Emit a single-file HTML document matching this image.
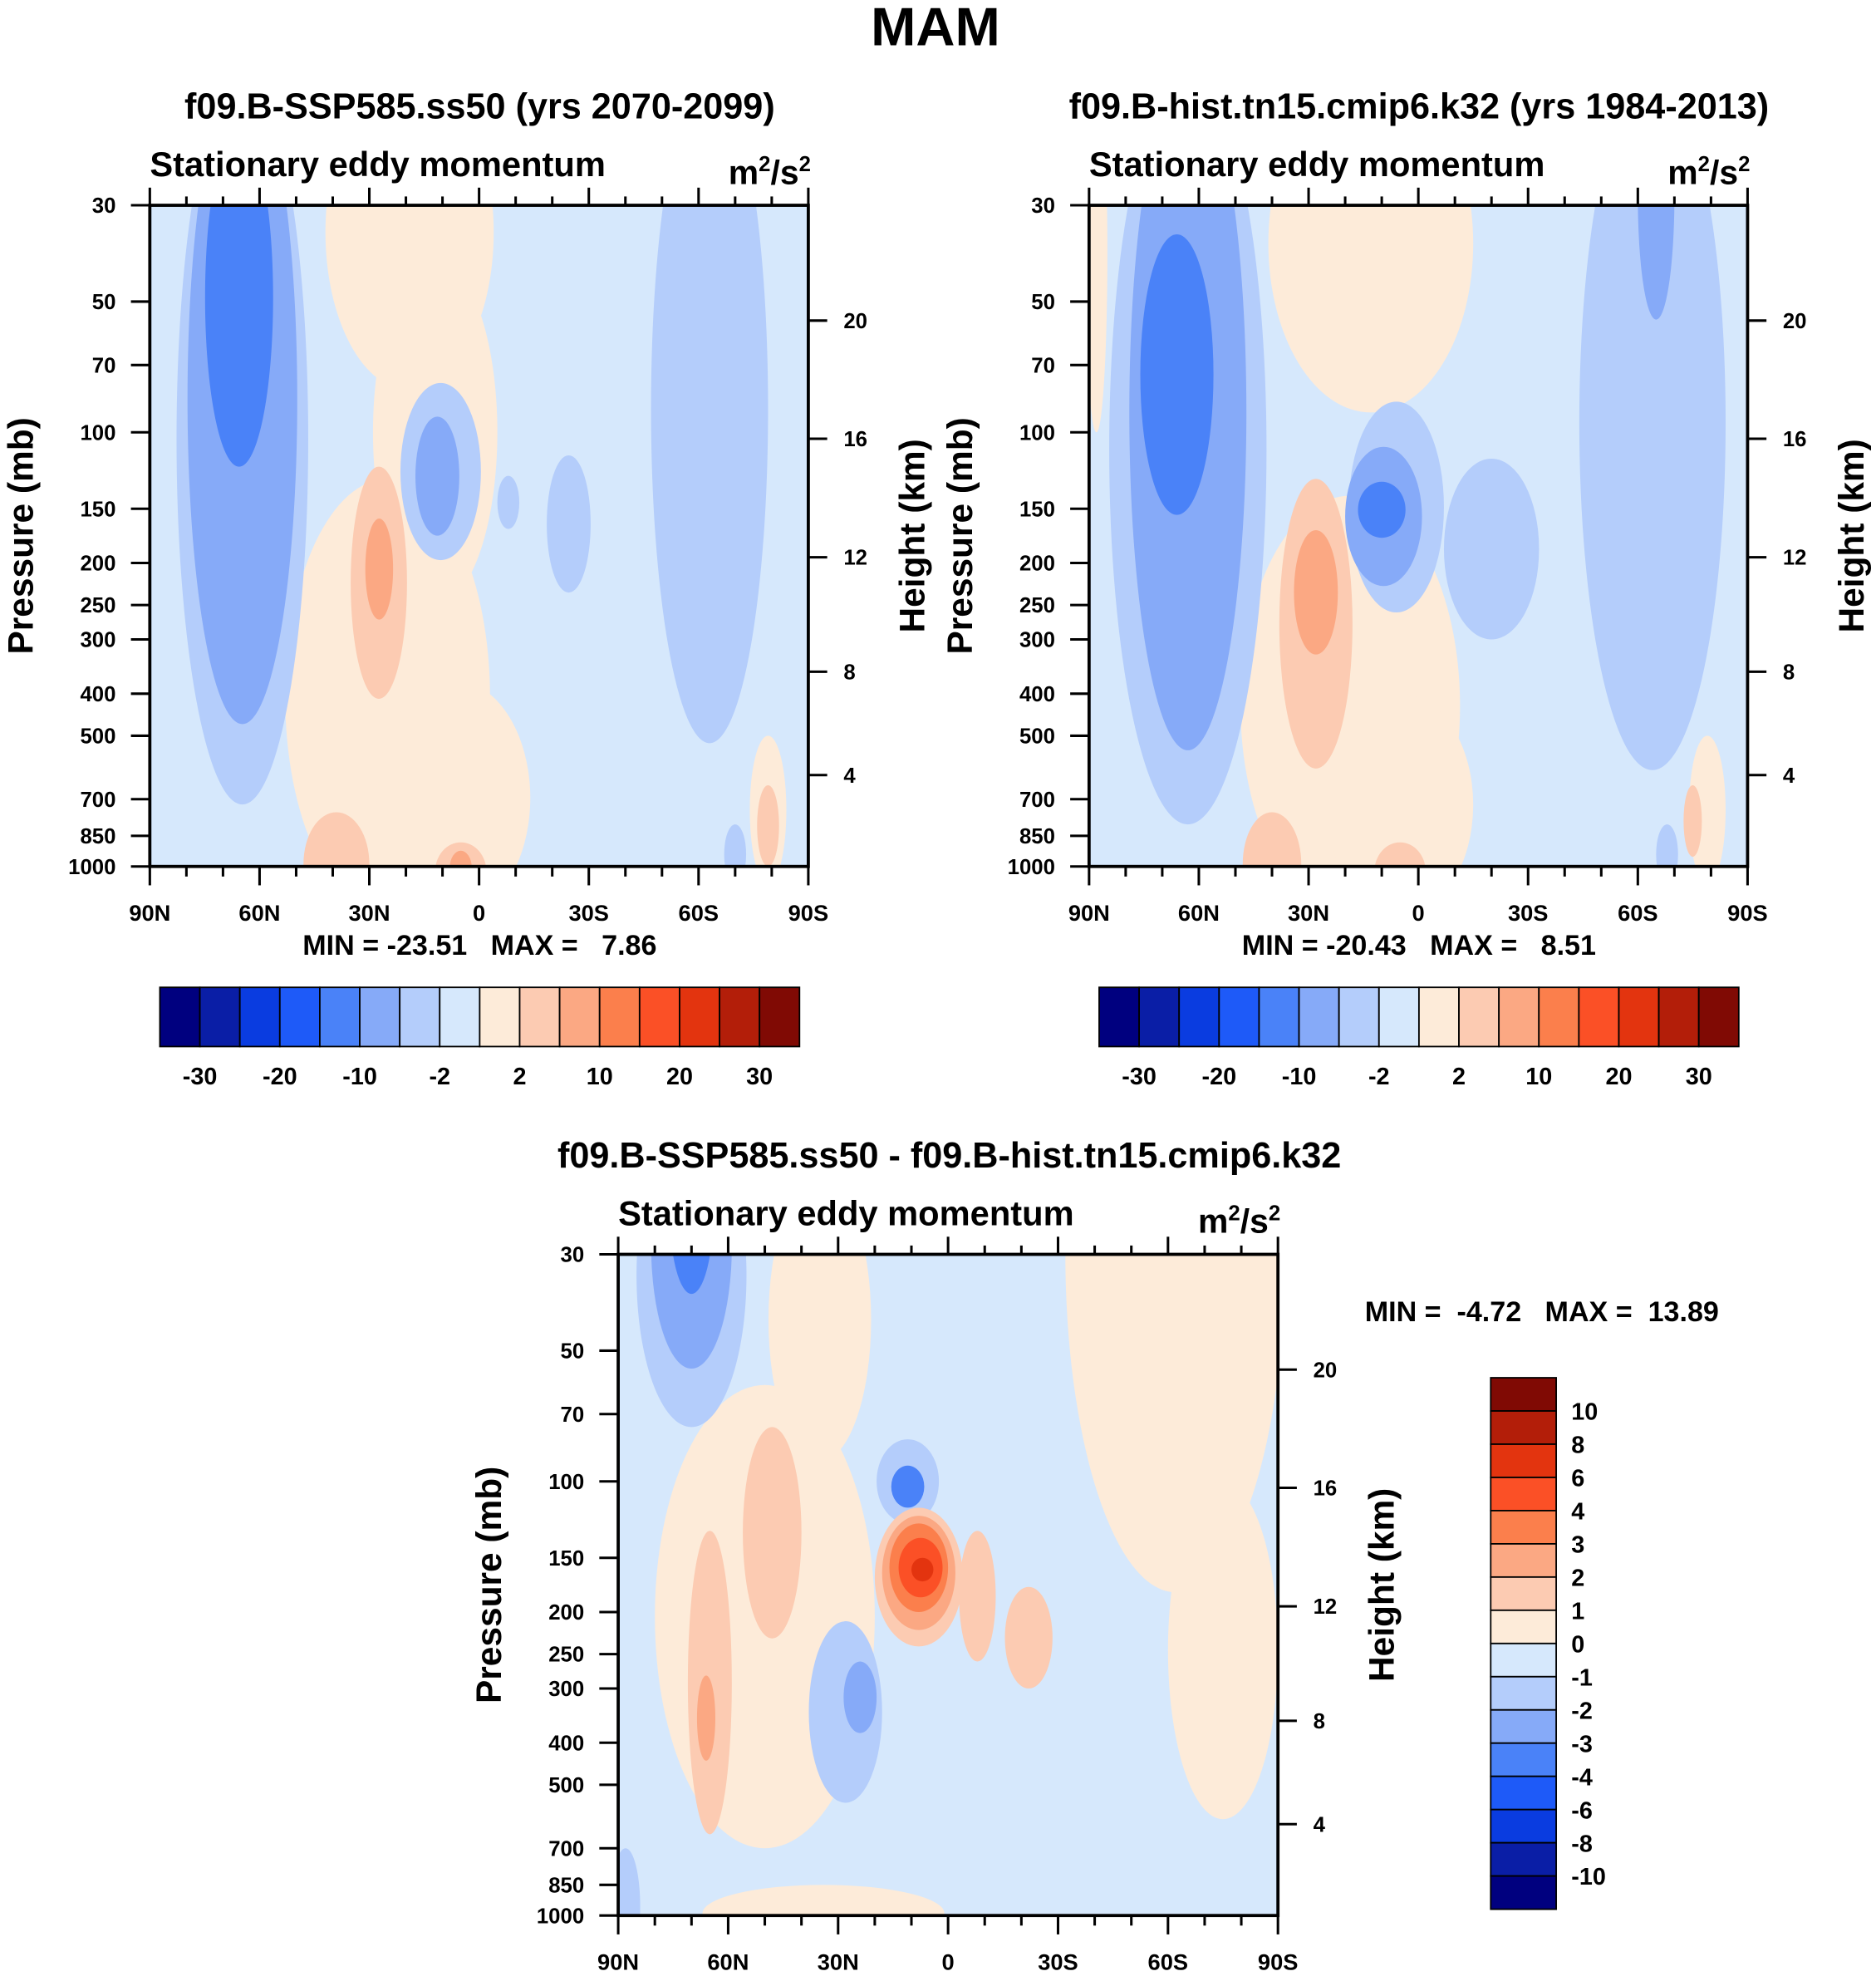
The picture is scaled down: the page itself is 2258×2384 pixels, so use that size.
<!DOCTYPE html>
<html><head><meta charset="utf-8"><style>
html,body{margin:0;padding:0;background:#fff;}
svg{display:block;font-family:"Liberation Sans",sans-serif;font-weight:bold;}
.pre{white-space:pre;}
</style></head><body>
<svg id="fig" xmlns="http://www.w3.org/2000/svg" width="2258" height="2384" viewBox="0 0 1490 1573" preserveAspectRatio="none">
<text x="743" y="36" text-anchor="middle" font-size="43">MAM</text>
</svg>
<script>
const levelColors=["#00007f","#0a1ea6","#0a3ce0","#1e5af8","#4a82f8","#86aaf8","#b4cdfb","#d6e8fc","#fdebd9","#fccbb2","#fba883","#fb7f4c","#fb5026","#e3340f","#b31e09","#800a04"];
const xTickLabels=["90N","60N","30N","0","30S","60S","90S"];
const xTickLats=[90,60,30,0,-30,-60,-90];
const pLevels=[30,50,70,100,150,200,250,300,400,500,700,850,1000];
const heightKm=[4,8,12,16,20];
const heightP=[616,356,194,103.5,55.3];
const cbLabelsH=["-30","-20","-10","-2","2","10","20","30"];
const cbLabelsV=["10","8","6","4","3","2","1","0","-1","-2","-3","-4","-6","-8","-10"];
// blobs: [latCenter, latHalfWidth, pTop, pBottom, level]
const panel1Blobs=[
[19,23,15,80,8],[12,17,40,250,8],[25,28,128,1300,8],[7,21,372,1300,8],
[64.7,18,15,720,6],[64.7,15,15,470,5],[65.6,9.3,20,120,4],
[10.5,11,77,197,6],[11.4,6,92,173,5],[-8,3,126,167,6],[-24.5,6,113,234,6],
[-63,16,15,520,6],[27.4,7.7,120,411,9],[27.3,3.8,158,270,10],
[39,9,750,1300,9],[5,7,880,1200,9],[5,3,920,1100,10],
[-79,5,500,1100,8],[-79,3,650,1000,9],[-70,3,800,1100,6]];
const panel2Blobs=[
[13,28,15,90,8],[18.6,30,140,1300,8],[5,20,400,1300,8],[88,3,15,100,8],
[63,21.5,15,800,6],[63,16,15,540,5],[66,10,35,155,4],
[6,13,85,260,6],[-20,13,115,300,6],[9.5,10.5,108,226,5],[10,6.5,130,175,4],
[28,10,128,595,9],[28,6,168,325,10],
[-64,20,15,600,6],[-65,5,15,55,5],
[40,8,750,1300,9],[5,7,880,1200,9],[-79,5,500,1100,8],[-75,2.5,650,950,9],[-68,3,800,1100,6]];
const panel3Blobs=[
[50,30,60,700,8],[35,14,20,90,8],[-62,30,5,180,8],[-75,15,100,600,8],[34,33,850,1150,8],
[70,15,15,75,6],[70,11,15,55,5],[70,6,15,37,4],
[65,6,130,650,9],[48,8,75,230,9],[66,2.5,280,440,10],
[11,8.5,80,125,6],[11,4.5,92,115,4],
[8,12,115,240,9],[8,10,120,220,10],[8,8,125,200,11],[7.5,6,135,185,12],[7,3,150,170,13],
[28,10,210,550,6],[24,4.5,260,380,5],
[-22,6.5,175,300,9],[-8,5,130,260,9],[88,4,700,1300,6]];
const svg=document.getElementById('fig');
const NS="http://www.w3.org/2000/svg";
function mk(tag,attrs,parent){const e=document.createElementNS(NS,tag);for(const k in attrs)e.setAttribute(k,attrs[k]);(parent||svg).appendChild(e);return e;}
function txt(x,y,s,size,anchor,parent,rot){const t=mk('text',{x:x,y:y,'font-size':size,'text-anchor':anchor||'middle'},parent);if(rot)t.setAttribute('transform','rotate('+rot+' '+x+' '+y+')');t.textContent=s;return t;}
function unitLabel(x,y,parent){const t=mk('text',{x:x,y:y,'font-size':27,'text-anchor':'end'},parent);t.innerHTML='m<tspan dy="-10" font-size="17">2</tspan><tspan dy="10">/s</tspan><tspan dy="-10" font-size="17">2</tspan>';return t;}
function drawPanel(id,x0,y0,W,H,blobs,title,titleX,minmax,mmX,mmY,mmAnchor){
 const g=mk('g',{});
 
 
 const px=lat=>x0+(90-lat)/180*W;
 const py=p=>y0+H*Math.log(p/30)/Math.log(1000/30);
 const cp=mk('clipPath',{id:id+'-clip'},g);mk('rect',{x:x0,y:y0,width:W,height:H},cp);
 const field=mk('g',{'clip-path':'url(#'+id+'-clip)'},g);
 
 
 mk('rect',{x:x0,y:y0,width:W,height:H,fill:levelColors[7]},field);
 blobs.forEach(b=>{const yt=py(b[2]),yb=py(b[3]);
  const e=mk('ellipse',{cx:px(b[0]),cy:(yt+yb)/2,rx:b[1]/180*W,ry:(yb-yt)/2,fill:levelColors[b[4]]},field);
  
  });
 mk('rect',{x:x0,y:y0,width:W,height:H,fill:'none',stroke:'#000','stroke-width':2.5},g);
 for(let lat=90;lat>=-90;lat-=10){const x=px(lat);const major=lat%30===0;
  mk('line',{x1:x,y1:y0,x2:x,y2:y0-(major?14:7),stroke:'#000','stroke-width':2},g);
  mk('line',{x1:x,y1:y0+H,x2:x,y2:y0+H+(major?15:8),stroke:'#000','stroke-width':2},g);}
 xTickLats.forEach((lat,i)=>{const t=txt(px(lat),y0+H+43,xTickLabels[i],18,'middle',g);
  
  });
 pLevels.forEach(p=>{const y=py(p);mk('line',{x1:x0,y1:y,x2:x0-15,y2:y,stroke:'#000','stroke-width':2},g);
  const t=txt(x0-27,y+6,String(p),17,'end',g);
  
  });
 heightKm.forEach((z,i)=>{const y=py(heightP[i]);mk('line',{x1:x0+W,y1:y,x2:x0+W+15,y2:y,stroke:'#000','stroke-width':2},g);
  const t=txt(x0+W+28,y+6,String(z),17,'start',g);
  
  });
 const lt=txt(x0-93,y0+H/2,'Pressure (mb)',28,'middle',g,-90);
 
 
 const rt=txt(x0+W+92,y0+H/2,'Height (km)',28,'middle',g,-90);
 
 
 const st=txt(x0,y0-23,'Stationary eddy momentum',27.5,'start',g);
 
 
 const ul=unitLabel(x0+W+2,y0-17,g);
 
 
 const tt=txt(titleX,y0-69,title,28.5,'middle',g);
 
 
 const mm=txt(mmX,mmY,minmax,22.5,mmAnchor||'middle',g);
 mm.setAttribute('class','pre');
 
 
}
function hColorbar(id,x0,y0,W,H){
 const g=mk('g',{});
 
 
 const bw=W/16;
 levelColors.forEach((c,i)=>{const r=mk('rect',{x:x0+i*bw,y:y0,width:bw,height:H,fill:c,stroke:'#000','stroke-width':1.2},g);
  
  });
 cbLabelsH.forEach((s,i)=>{const t=txt(x0+(2*i+1)*bw,y0+H+30,s,19,'middle',g);
  
  });
}
function vColorbar(id,x0,y0,W,H){
 const g=mk('g',{});
 
 
 const bh=H/16;
 levelColors.slice().reverse().forEach((c,i)=>{const r=mk('rect',{x:x0,y:y0+i*bh,width:W,height:bh,fill:c,stroke:'#000','stroke-width':1.2},g);
  
  });
 cbLabelsV.forEach((s,i)=>{const t=txt(x0+W+12,y0+(i+1)*bh+7,s,19,'start',g);
  
  });
}
drawPanel('panel-ssp585',119,163,523,525,panel1Blobs,'f09.B-SSP585.ss50 (yrs 2070-2099)',381,'MIN = -23.51   MAX =   7.86',381,758);
drawPanel('panel-hist',865,163,523,525,panel2Blobs,'f09.B-hist.tn15.cmip6.k32 (yrs 1984-2013)',1127,'MIN = -20.43   MAX =   8.51',1127,758);
drawPanel('panel-diff',491,996,524,525,panel3Blobs,'f09.B-SSP585.ss50 - f09.B-hist.tn15.cmip6.k32',754,'MIN =  -4.72   MAX =  13.89',1084,1049,'start');
hColorbar('colorbar-ssp585',127,784,508,47);
hColorbar('colorbar-hist',873,784,508,47);
vColorbar('colorbar-diff',1184,1094,52,422);
</script>
</body></html>
